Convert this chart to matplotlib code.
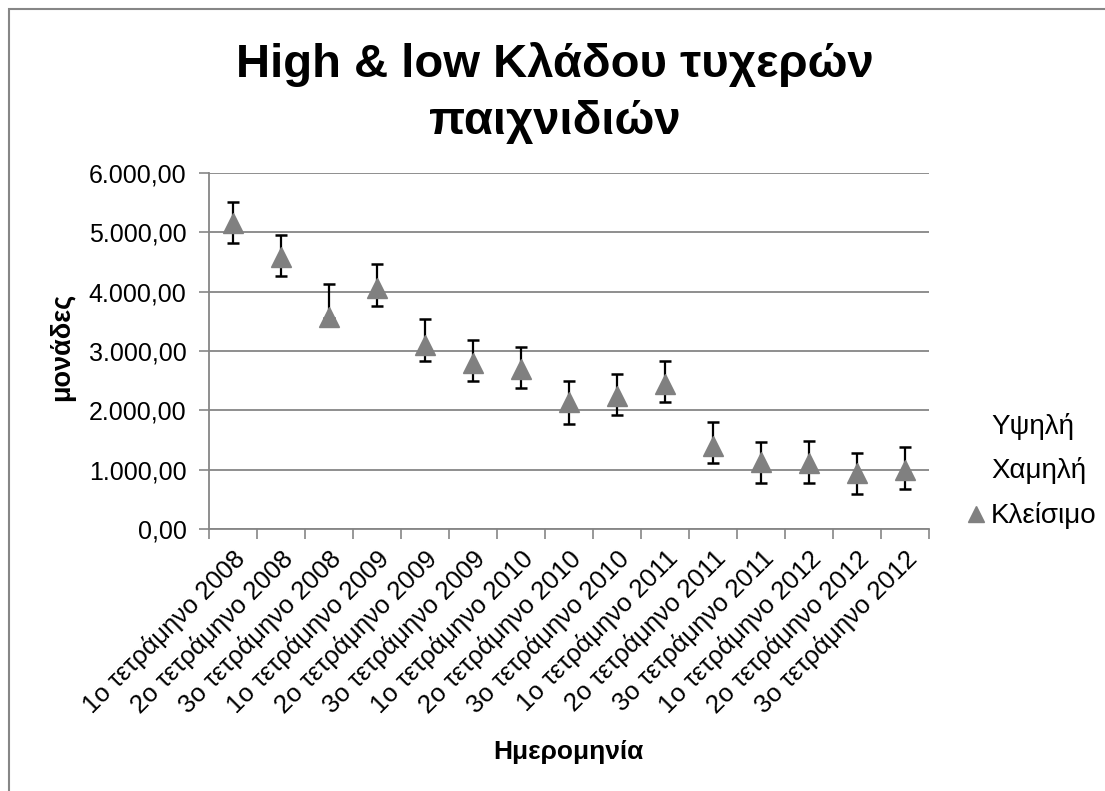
import numpy as np
import matplotlib.pyplot as plt
from matplotlib.lines import Line2D
from matplotlib.patches import Rectangle
from matplotlib.ticker import FuncFormatter, MultipleLocator

plt.rcParams['font.family'] = ['Liberation Sans', 'DejaVu Sans']

# quarters (τετράμηνα)
categories = ['1ο τετράμηνο 2008', '2ο τετράμηνο 2008', '3ο τετράμηνο 2008',
              '1ο τετράμηνο 2009', '2ο τετράμηνο 2009', '3ο τετράμηνο 2009',
              '1ο τετράμηνο 2010', '2ο τετράμηνο 2010', '3ο τετράμηνο 2010',
              '1ο τετράμηνο 2011', '2ο τετράμηνο 2011', '3ο τετράμηνο 2011',
              '1ο τετράμηνο 2012', '2ο τετράμηνο 2012', '3ο τετράμηνο 2012']
high = [5500, 4960, 4130, 4460, 3540, 3190, 3070, 2490, 2620, 2840,
        1810, 1470, 1480, 1290, 1380]
low = [4810, 4260, 3560, 3760, 2840, 2500, 2370, 1780, 1920, 2140,
       1110, 780, 780, 590, 670]
close = [5150, 4580, 3580, 4060, 3100, 2790, 2690, 2140, 2240, 2450,
         1400, 1130, 1120, 940, 990]

grey = '#808080'
axis_grey = '#868686'

fig = plt.figure(figsize=(11.05, 7.91), dpi=100)
ax = fig.add_axes([208.7 / 1105, 1 - 529.3 / 791, 720 / 1105, 356.6 / 791])

x = np.arange(len(categories))

# high-low lines with caps
ax.vlines(x, low, high, color='black', lw=1.6, zorder=3)
ax.plot(x, high, linestyle='none', marker='_', markersize=8.5, mew=1.8, color='black', zorder=3)
ax.plot(x, low, linestyle='none', marker='_', markersize=8.5, mew=1.8, color='black', zorder=3)
# closing values
ax.plot(x, close, linestyle='none', marker='^', markersize=14.5, color=grey, mec=grey, zorder=4)

ax.set_xlim(-0.5, len(categories) - 0.5)
ax.set_ylim(0, 6000)
ax.yaxis.set_major_locator(MultipleLocator(1000))

def greek_fmt(v, pos):
    s = f'{v:,.2f}'
    return s.replace(',', 'X').replace('.', ',').replace('X', '.')

ax.yaxis.set_major_formatter(FuncFormatter(greek_fmt))
ax.grid(axis='y', color=axis_grey, lw=1.3)
ax.set_axisbelow(True)

ax.set_xticks(x)
ax.set_xticklabels(categories, rotation=45, ha='right', rotation_mode='anchor')
ax.set_xticks(np.arange(-0.5, len(categories)), minor=True)
ax.tick_params(axis='x', which='major', length=0, pad=12, labelsize=18.5)
ax.tick_params(axis='x', which='minor', length=7, width=1.2, color=axis_grey, direction='out')
ax.tick_params(axis='y', length=7, width=1.2, color=axis_grey, direction='out', pad=9, labelsize=18)

for s in ['top', 'right']:
    ax.spines[s].set_visible(False)
for s in ['left', 'bottom']:
    ax.spines[s].set_color(axis_grey)
    ax.spines[s].set_linewidth(1.3)

fig.text(555 / 1105, 1 - 93 / 791, 'High & low Κλάδου τυχερών\nπαιχνιδιών',
         ha='center', va='center', fontsize=34, fontweight='bold', linespacing=1.4)
fig.text(62 / 1105, 1 - 347 / 791, 'μονάδες', rotation=90, ha='center', va='center',
         fontsize=19.5, fontweight='bold')
fig.text(568 / 1105, 1 - 752 / 791, 'Ημερομηνία', ha='center', va='center',
         fontsize=19, fontweight='bold')

handles = [Line2D([], [], linestyle='none'),
           Line2D([], [], linestyle='none'),
           Line2D([], [], linestyle='none', marker='^', markersize=12, color=grey)]
fig.legend(handles, ['Υψηλή', 'Χαμηλή', 'Κλείσιμο'], loc='center left',
           bbox_to_anchor=(954 / 1105, 1 - 471 / 791), frameon=False, fontsize=20,
           borderaxespad=0, handlelength=0.8, handletextpad=0.13, labelspacing=0.64)

fig.add_artist(Rectangle((9 / 1105, -0.1), 1.2, (1 - 9 / 791) + 0.1,
                         transform=fig.transFigure, fill=False, edgecolor=axis_grey, lw=1.5))

fig.savefig('out.png', dpi=100)
